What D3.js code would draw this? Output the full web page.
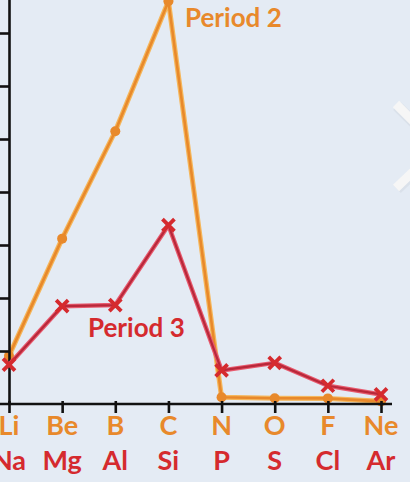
<!DOCTYPE html>
<html>
<head>
<meta charset="utf-8">
<script src="https://cdn.jsdelivr.net/npm/d3@7/dist/d3.min.js"></script>
<style>
  html, body { margin: 0; padding: 0; background: #e4ebf4; overflow: hidden; }
  text { font-family: Lato, "Noto Sans", sans-serif; font-weight: bold; }
</style>
</head>
<body>
<div class="viz"></div>
<script>
var w = 410;
var h = 482;

// elements of period 2 and period 3 (same column)
var period2 = ["Li", "Be", "B", "C", "N", "O", "F", "Ne"];
var period3 = ["Na", "Mg", "Al", "Si", "P", "S", "Cl", "Ar"];
// melting points (K)
var melt2 = [454, 1560, 2573, 3800, 63, 54, 53, 25];
var melt3 = [371, 923, 933, 1687, 317, 388, 172, 90];
var yTicks = [500, 1000, 1500, 2000, 2500, 3000, 3500];

var orange = "#e8892b";
var red = "#d52a2e";

var svg = d3.select(".viz")
            .append("svg")
            .attr("width", w)
            .attr("height", h);

svg.append("rect")
   .attr("width", w)
   .attr("height", h)
   .attr("fill", "#e4ebf4");

// white chevron on the right edge (navigation arrow of the original page)
svg.append("polyline")
   .attr("points", "397,106 440,148 397,189")
   .attr("fill", "none")
   .attr("stroke", "#c9ced6")
   .attr("stroke-width", 11)
   .attr("opacity", 0.35);
svg.append("polyline")
   .attr("points", "396,104 439,147 396,188")
   .attr("fill", "none")
   .attr("stroke", "#f6f6f6")
   .attr("stroke-width", 9);

var x = d3.scalePoint()
          .domain(d3.range(period2.length))
          .range([9, 381]);

var y = d3.scaleLinear()
          .domain([0, 4000])
          .range([404, -20]);

var line = d3.line()
             .x(function (d, i) { return x(i); })
             .y(function (d) { return y(d); });

// period 2 line (orange)
svg.append("path")
   .datum(melt2)
   .attr("d", line)
   .attr("fill", "none")
   .attr("stroke", "#f5b75c")
   .attr("stroke-width", 5)
   .attr("stroke-linejoin", "round");
svg.append("path")
   .datum(melt2)
   .attr("d", line)
   .attr("fill", "none")
   .attr("stroke", orange)
   .attr("stroke-width", 2.6)
   .attr("stroke-linejoin", "round");

svg.selectAll(".dot2")
   .data(melt2)
   .enter()
   .append("circle")
   .attr("class", "dot2")
   .attr("cx", function (d, i) { return x(i); })
   .attr("cy", function (d) { return y(d); })
   .attr("r", 5)
   .attr("fill", orange);

// axes
var xAxis = d3.axisBottom(x).tickSizeInner(9).tickSizeOuter(0).tickFormat("");
var yAxis = d3.axisLeft(y).tickValues(yTicks).tickSizeInner(9).tickSizeOuter(0).tickFormat("");

var gx = svg.append("g").attr("transform", "translate(0," + y(0) + ")").call(xAxis);
gx.select(".domain").attr("d", "M0,0H392");
gx.selectAll(".tick line").attr("y1", -3);
var gy = svg.append("g").attr("transform", "translate(" + x(0) + ",0)").call(yAxis);
svg.selectAll(".domain, .tick line")
   .attr("stroke", "#111")
   .attr("stroke-width", 2.6);

// period 3 line (red)
svg.append("path")
   .datum(melt3)
   .attr("d", line)
   .attr("fill", "none")
   .attr("stroke", "#e85a6e")
   .attr("stroke-width", 4.5)
   .attr("stroke-linejoin", "round");
svg.append("path")
   .datum(melt3)
   .attr("d", line)
   .attr("fill", "none")
   .attr("stroke", "#b8283a")
   .attr("stroke-width", 2.2)
   .attr("stroke-linejoin", "round");

var crosses = svg.selectAll(".cross")
                 .data(melt3)
                 .enter()
                 .append("path")
                 .attr("class", "cross")
                 .attr("d", function (d, i) {
                     var cx = x(i), cy = y(d), s = 6;
                     return "M" + (cx - s) + "," + (cy - s) + "L" + (cx + s) + "," + (cy + s) +
                            "M" + (cx - s) + "," + (cy + s) + "L" + (cx + s) + "," + (cy - s);
                 })
                 .attr("stroke", red)
                 .attr("stroke-width", 3.8);

// element labels under the axis
svg.selectAll(".lab2")
   .data(period2)
   .enter()
   .append("text")
   .attr("class", "lab2")
   .attr("x", function (d, i) { return x(i); })
   .attr("y", 435)
   .attr("text-anchor", "middle")
   .attr("font-size", 27)
   .attr("fill", orange)
   .text(function (d) { return d; });

svg.selectAll(".lab3")
   .data(period3)
   .enter()
   .append("text")
   .attr("class", "lab3")
   .attr("x", function (d, i) { return x(i); })
   .attr("y", 470)
   .attr("text-anchor", "middle")
   .attr("font-size", 27)
   .attr("fill", red)
   .text(function (d) { return d; });

// series names
svg.append("text")
   .attr("x", 185)
   .attr("y", 27)
   .attr("font-size", 26)
   .attr("fill", orange)
   .text("Period 2");

svg.append("text")
   .attr("x", 88)
   .attr("y", 337)
   .attr("font-size", 26)
   .attr("fill", red)
   .text("Period 3");
</script>
</body>
</html>
